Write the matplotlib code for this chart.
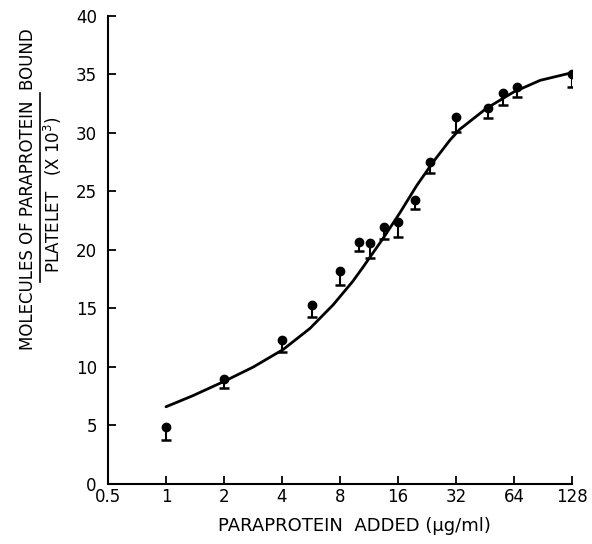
import matplotlib.pyplot as plt
from matplotlib.lines import Line2D

# measured points (ug/ml added, molecules bound x 10^3) and lower end of error bar
conc = [1, 2, 4, 5.7, 8, 10, 11.5, 13.5, 16, 19.5, 23.5, 32, 47, 56, 66, 128]
bound = [4.9, 9.0, 12.3, 15.3, 18.2, 20.7, 20.6, 22.0, 22.4, 24.3, 27.5, 31.4, 32.1, 33.4, 33.9, 35.0]
err_low = [3.8, 8.2, 11.3, 14.3, 17.0, 19.9, 19.3, 20.9, 21.1, 23.5, 26.6, 30.1, 31.3, 32.4, 33.05, 33.9]

# fitted curve
curve_x = [1.0, 1.38, 2.02, 2.84, 4.06, 5.59, 7.36, 9.3, 10.5, 13.4, 16.4, 20.0, 24.3,
           29.8, 33.4, 46, 63.7, 87.5, 124, 128]
curve_y = [6.6, 7.55, 8.8, 10.0, 11.5, 13.3, 15.3, 17.3, 18.5, 21.0, 23.2, 25.5, 27.5,
           29.4, 30.3, 32.1, 33.5, 34.5, 35.1, 35.15]

x_ticks = [0.5, 1, 2, 4, 8, 16, 32, 64, 128]
x_tick_labels = ['0.5', '1', '2', '4', '8', '16', '32', '64', '128']
y_ticks = [0, 5, 10, 15, 20, 25, 30, 35, 40]

fig = plt.figure(figsize=(5.92, 5.44), dpi=100)
ax = fig.add_axes([0.1824, 0.1103, 0.7838, 0.8603])

ax.plot(curve_x, curve_y, color='black', linewidth=2.0,
        solid_capstyle='round', solid_joinstyle='round')
ax.vlines(conc, err_low, bound, color='black', linewidth=1.5)
ax.plot(conc, err_low, linestyle='none', marker='_', markersize=7, markeredgewidth=1.8, color='black')
ax.plot(conc, bound, linestyle='none', marker='o', markersize=6, color='black')

ax.set_xscale('log', base=2)
ax.set_xlim(0.5, 128)
ax.set_ylim(0, 40)
ax.set_xticks(x_ticks)
ax.set_xticklabels(x_tick_labels)
ax.set_yticks(y_ticks)
ax.minorticks_off()

for side in ['top', 'right']:
    ax.spines[side].set_visible(False)
for side in ['left', 'bottom']:
    ax.spines[side].set_linewidth(1.5)
ax.tick_params(direction='in', length=6, width=1.3, labelsize=12, pad=8)
ax.tick_params(axis='x', pad=3)

ax.set_xlabel('PARAPROTEIN  ADDED (\u03bcg/ml)', fontsize=13, labelpad=9)
ax.xaxis.set_label_coords(0.532, -0.07)

# y label drawn as a fraction
fig.text(0.047, 0.653, 'MOLECULES OF PARAPROTEIN  BOUND', rotation=90,
         ha='center', va='center', fontsize=12)
fig.text(0.090, 0.642, 'PLATELET   (X 10$^3$)', rotation=90,
         ha='center', va='center', fontsize=12)
fig.add_artist(Line2D([0.067, 0.067], [1 - 282 / 544, 1 - 93 / 544],
                      transform=fig.transFigure, color='black', linewidth=1.2))

fig.savefig('out.png', dpi=100)
